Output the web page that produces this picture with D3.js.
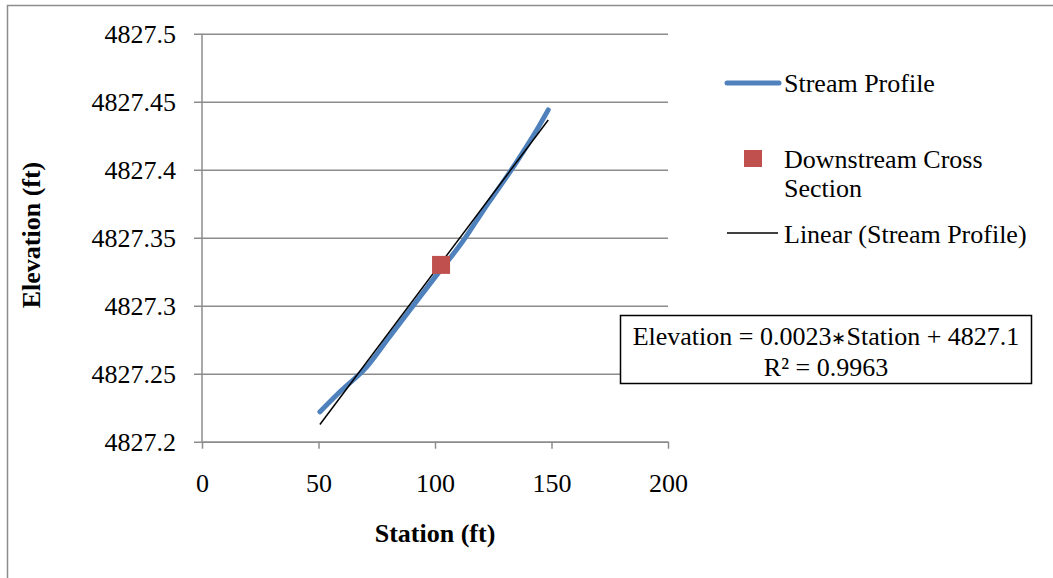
<!DOCTYPE html>
<html>
<head>
<meta charset="utf-8">
<script src="https://cdn.jsdelivr.net/npm/d3@7"></script>
<style>
  body { margin: 0; background: #fff; }
  svg { display: block; font-family: "Liberation Serif", "Times New Roman", serif; }
</style>
</head>
<body>
<svg id="chart" width="1053" height="578"></svg>
<script>
// stream profile
const station = [50.6, 60, 70.7, 80, 89.3, 100, 112.2, 120.7, 133.6, 143.6, 148.6]
const elevation = [4827.222, 4827.238, 4827.255, 4827.276, 4827.297, 4827.321, 4827.348, 4827.370, 4827.402, 4827.429, 4827.444]
const crossStation = [102.6]
const crossElevation = [4827.33]
const xTicks = [0, 50, 100, 150, 200]
const yTicks = [4827.2, 4827.25, 4827.3, 4827.35, 4827.4, 4827.45, 4827.5]

const svg = d3.select('#chart')
const fs = 26
const serif = '"Liberation Serif", "Times New Roman", serif'

// outer chart frame
svg.append('rect').attr('x', 7.5).attr('y', 5.5).attr('width', 1100).attr('height', 700)
  .attr('fill', 'none').attr('stroke', '#8c8c8c').attr('stroke-width', 1.5)

const x = d3.scaleLinear().domain([0, 200]).range([202, 668])
const y = d3.scaleLinear().domain([4827.2, 4827.5]).range([441.7, 33.7])

// gridlines + y ticks
svg.append('g').attr('transform', 'translate(202,0)')
  .call(d3.axisLeft(y).tickValues(yTicks).tickSize(-466).tickSizeOuter(0).tickFormat(d3.format('')))
  .call(g => g.select('.domain').remove())
  .call(g => g.selectAll('.tick line').attr('x1', -8).attr('stroke', '#8c8c8c').attr('stroke-width', 1.5))
  .call(g => g.selectAll('.tick text').attr('x', -26).attr('dy', '0.33em')
    .style('font-size', fs + 'px').style('font-family', serif).attr('fill', '#000'))

// y axis line
svg.append('line').attr('x1', 202).attr('x2', 202).attr('y1', 33.7).attr('y2', 441.7)
  .attr('stroke', '#8c8c8c').attr('stroke-width', 1.5)

// x axis
svg.append('g').attr('transform', 'translate(0,441.7)')
  .call(d3.axisBottom(x).tickValues(xTicks).tickSize(7).tickSizeOuter(0))
  .call(g => g.select('.domain').attr('stroke', '#8c8c8c').attr('stroke-width', 1.5))
  .call(g => g.selectAll('.tick line').attr('stroke', '#8c8c8c').attr('stroke-width', 1.5))
  .call(g => g.selectAll('.tick text').attr('y', 32)
    .style('font-size', fs + 'px').style('font-family', serif).attr('fill', '#000'))

// axis titles
svg.append('text').attr('x', 435).attr('y', 542).attr('text-anchor', 'middle')
  .style('font-size', fs + 'px').style('font-weight', 'bold').text('Station (ft)')
svg.append('text').attr('transform', 'translate(40,235) rotate(-90)').attr('text-anchor', 'middle')
  .style('font-size', fs + 'px').style('font-weight', 'bold').text('Elevation (ft)')

const pts = station.map((s, i) => [s, elevation[i]])

// stream profile
svg.append('path').datum(pts)
  .attr('d', d3.line().x(d => x(d[0])).y(d => y(d[1])).curve(d3.curveMonotoneX))
  .attr('fill', 'none').attr('stroke', '#4f81bd').attr('stroke-width', 5)
  .attr('stroke-linecap', 'round').attr('stroke-linejoin', 'round')

// least squares trend line
const mx = d3.mean(station), my = d3.mean(elevation)
const slope = d3.sum(pts, d => (d[0] - mx) * (d[1] - my)) / d3.sum(pts, d => (d[0] - mx) ** 2)
const icpt = my - slope * mx
const ends = d3.extent(station)
svg.append('line')
  .attr('x1', x(ends[0])).attr('y1', y(slope * ends[0] + icpt))
  .attr('x2', x(ends[1])).attr('y2', y(slope * ends[1] + icpt))
  .attr('stroke', '#000').attr('stroke-width', 1.5)

// downstream cross section
svg.selectAll('rect.cs').data(crossStation).enter().append('rect').attr('class', 'cs')
  .attr('x', (d, i) => x(d) - 9).attr('y', (d, i) => y(crossElevation[i]) - 9)
  .attr('width', 18).attr('height', 18).attr('fill', '#c0504d')

// legend
const lg = svg.append('g').style('font-size', fs + 'px')
lg.append('line').attr('x1', 727).attr('x2', 779).attr('y1', 83).attr('y2', 83)
  .attr('stroke', '#4f81bd').attr('stroke-width', 5).attr('stroke-linecap', 'round')
lg.append('text').attr('x', 784).attr('y', 92).text('Stream Profile')
lg.append('rect').attr('x', 744).attr('y', 150).attr('width', 18).attr('height', 17).attr('fill', '#c0504d')
lg.append('text').attr('x', 784).attr('y', 168).text('Downstream Cross')
lg.append('text').attr('x', 784).attr('y', 197).text('Section')
lg.append('line').attr('x1', 727).attr('x2', 778).attr('y1', 233).attr('y2', 233)
  .attr('stroke', '#000').attr('stroke-width', 1.5)
lg.append('text').attr('x', 784).attr('y', 243).text('Linear (Stream Profile)')

// equation box
svg.append('rect').attr('x', 620.5).attr('y', 315.5).attr('width', 411).attr('height', 68)
  .attr('fill', '#fff').attr('stroke', '#000').attr('stroke-width', 1.5)
const eq = svg.append('text').attr('x', 826).attr('y', 345).attr('text-anchor', 'middle')
  .style('font-size', fs + 'px')
eq.append('tspan').text('Elevation = 0.0023')
eq.append('tspan').style('font-size', '18px').attr('dy', -1).text('\u2217')
eq.append('tspan').attr('dy', 1).text('Station + 4827.1')
svg.append('text').attr('x', 826).attr('y', 376).attr('text-anchor', 'middle')
  .style('font-size', fs + 'px').text('R\u00b2 = 0.9963')
</script>
</body>
</html>
